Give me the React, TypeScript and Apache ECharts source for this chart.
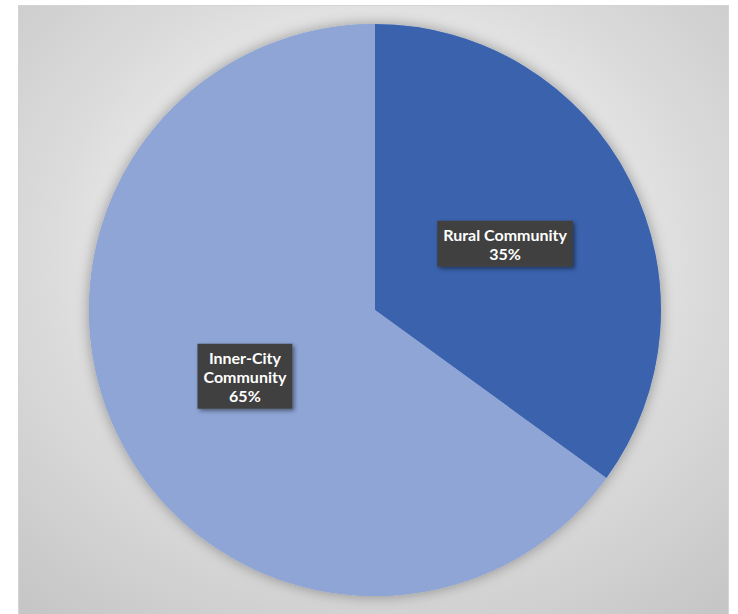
import React, { useEffect, useRef } from "react";
import * as echarts from "echarts";

const categories = ["Rural Community", "Inner-City Community"];
const labelLines = [["Rural Community"], ["Inner-City", "Community"]];
const values = [35, 65];
const colors = ["#3A62AD", "#8EA5D6"];

export default function App() {
  const ref = useRef<HTMLDivElement>(null);
  useEffect(() => {
    document.body.style.overflow = "hidden";
    const chart = echarts.init(ref.current!, null, { renderer: "svg" });
    const data = categories.map((name, i) => ({
      name,
      value: values[i],
      itemStyle: { color: colors[i] },
    }));
    chart.setOption({
      animation: false,
      backgroundColor: "transparent",
      series: [
        {
          type: "pie",
          silent: true,
          radius: 286,
          center: [356, 304],
          data: [{ value: 1, name: "" }],
          label: { show: false },
          labelLine: { show: false },
          itemStyle: {
            color: "#8EA5D6",
            shadowBlur: 14,
            shadowColor: "rgba(0,0,0,0.35)",
          },
          z: 1,
        },
        {
          type: "pie",
          radius: 286,
          center: [356, 304],
          startAngle: 90,
          clockwise: true,
          data,
          z: 2,
          label: {
            show: true,
            position: "inside",
            formatter: (p: any) =>
              labelLines[p.dataIndex].join("\n") + "\n" + Math.round(p.percent) + "%",
            color: "#ffffff",
            fontFamily: "Lato",
            fontWeight: "bold",
            fontSize: 16,
            lineHeight: 19,
            align: "center",
            backgroundColor: "#404040",
            padding: [4, 6, 4, 6],
            shadowBlur: 4,
            shadowOffsetX: 2,
            shadowOffsetY: 2,
            shadowColor: "rgba(0,0,0,0.45)",
          },
          labelLine: { show: false },
          emphasis: { disabled: true },
        },
      ],
    });
    return () => chart.dispose();
  }, []);
  return (
    <div
      style={{
        position: "absolute",
        left: 18,
        top: 5,
        width: 711,
        height: 620,
        border: "1px solid #d4d4d4",
        boxSizing: "border-box",
        background:
          "radial-gradient(ellipse 75% 75% at 50% 40%, #ffffff 0%, #f6f6f6 25%, #dcdcdc 60%, #c6c6c6 100%)",
      }}
    >
      <div ref={ref} style={{ width: "100%", height: "100%" }} />
    </div>
  );
}
